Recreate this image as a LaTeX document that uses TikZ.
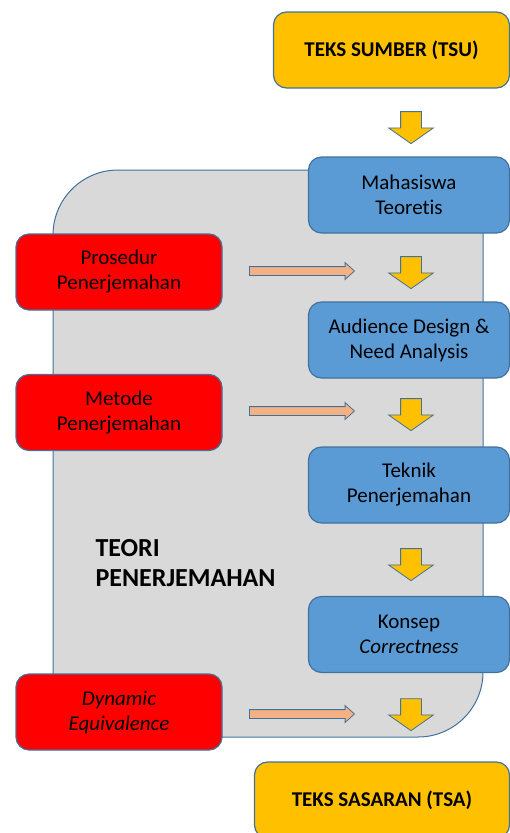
\documentclass[tikz,border=0pt]{standalone}
\usepackage{fontspec}
\setmainfont[Ligatures=NoCommon]{Carlito}
\usetikzlibrary{shapes.arrows}

\definecolor{edgeblue}{HTML}{41719C}
\definecolor{tsorange}{HTML}{FFC000}
\definecolor{stepblue}{HTML}{5B9BD5}
\definecolor{srcred}{HTML}{FF0000}
\definecolor{theorygray}{HTML}{D9D9D9}
\definecolor{salmon}{HTML}{F4B183}

\tikzset{
    box/.style={draw=edgeblue, line width=1.2pt, rounded corners=13pt, align=center, inner sep=0pt},
    textbox/.style={box, fill=tsorange, minimum height=76pt, font=\fontsize{21}{25}\selectfont\bfseries},
    stepbox/.style={box, fill=stepblue, minimum width=201pt, minimum height=76pt},
    redbox/.style={box, fill=srcred, minimum width=206pt, minimum height=76pt},
    downarr/.style={single arrow, draw=edgeblue, line width=0.8pt, fill=tsorange, shape border rotate=270,
        minimum height=32pt, inner sep=10pt, single arrow head extend=12pt, single arrow tip angle=110},
    sidearr/.style={single arrow, draw=edgeblue, line width=0.8pt, fill=salmon,
        minimum height=105pt, inner sep=4pt, single arrow head extend=4pt, single arrow tip angle=84}
}

\begin{document}
\begin{tikzpicture}[x=1pt, y=-1pt, font=\fontsize{21}{25}\selectfont]
    \useasboundingbox (0,0) rectangle (510,833);

    % Background {teori}
    \draw [draw=edgeblue, line width=1pt, fill=theorygray] (53,737) -- (53,235) arc (180:270:65) -- (483,170) -- (483,672) arc (0:90:65) -- cycle;
    \node [anchor=west, align=left, font=\fontsize{26}{30}\selectfont\bfseries] (teori) at (92,563) {TEORI\\PENERJEMAHAN};

    % Nodes {tsu, mhs, aud, tek, kon, tsa}
    \node [textbox, minimum width=236pt] (tsu) at (391.5,50) {TEKS SUMBER (TSU)};
    \node [stepbox] (mhs) at (409,195)   {Mahasiswa\\Teoretis};
    \node [stepbox] (aud) at (409,340)   {Audience Design \&\\Need Analysis};
    \node [stepbox] (tek) at (409,485)   {Teknik\\Penerjemahan};
    \node [stepbox] (kon) at (409,634.5) {Konsep\\\textit{Correctness}};
    \node [textbox, minimum width=255pt] (tsa) at (382,800) {TEKS SASARAN (TSA)};

    % Nodes {pro, met, dyn}
    \node [redbox] (pro) at (119,272)   {Prosedur\\Penerjemahan};
    \node [redbox] (met) at (119,412.5) {Metode\\Penerjemahan};
    \node [redbox] (dyn) at (119,712)   {\textit{Dynamic}\\\textit{Equivalence}};

    % Arrows
    \node [downarr] (d1) at (411,124) {};
    \node [downarr] (d2) at (411,269) {};
    \node [downarr] (d3) at (411,411) {};
    \node [downarr] (d4) at (411,561) {};
    \node [downarr] (d5) at (411,711) {};
    \node [sidearr] (s1) at (299.5,271) {};
    \node [sidearr] (s2) at (299.5,411) {};
    \node [sidearr] (s3) at (299.5,714) {};

\end{tikzpicture}
\end{document}
